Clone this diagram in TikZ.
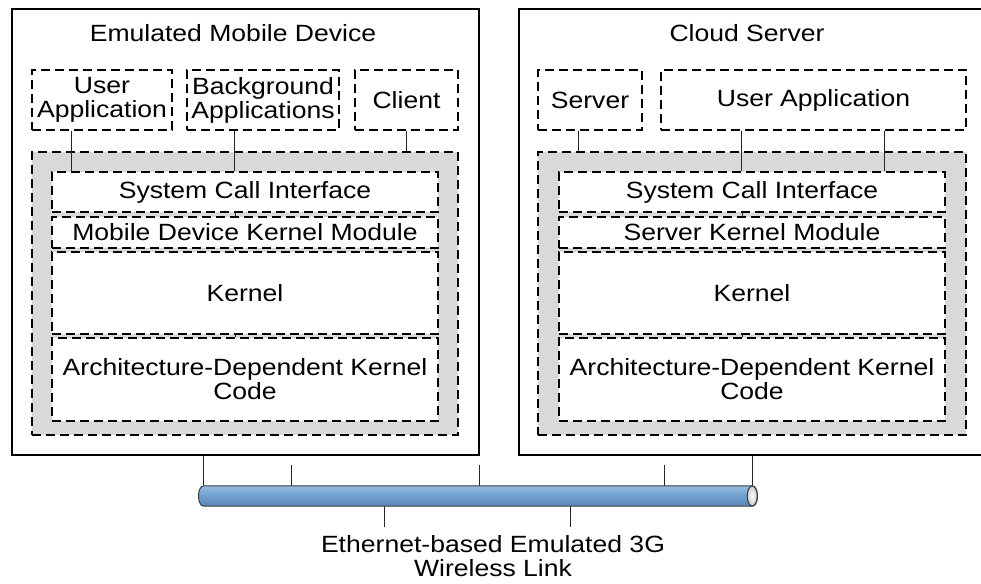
\documentclass[tikz,border=0pt]{standalone}
\usepackage{fontspec}
\setmainfont{Liberation Sans}[FakeStretch=1.13]
\definecolor{ringgray}{RGB}{217,217,217}
\definecolor{tubetop}{RGB}{150,187,224}
\definecolor{tubemid}{RGB}{110,158,206}
\definecolor{tubebot}{RGB}{88,134,184}
\definecolor{tubeline}{RGB}{60,60,60}
\begin{document}
\begin{tikzpicture}[x=1pt,y=-1pt,
  txt/.style={font=\fontsize{23.5}{24}\selectfont, align=center, inner sep=0pt},
  device/.style={draw=black, line width=1.3pt, inner sep=0pt},
  dbox/.style={txt, draw=black, dash pattern=on 9pt off 5pt, line width=1.5pt, fill=white},
  ring/.style={draw=black, dash pattern=on 9pt off 5pt, line width=1.5pt, fill=ringgray, inner sep=0pt},
  wire/.style={draw=black!85, line width=0.9pt},
  tube/.style={draw=tubeline, line width=1pt, top color=tubetop, bottom color=tubebot, middle color=tubemid},
  tubecap/.style={draw=tubeline, line width=1pt, inner color=white, outer color=black!20}
]
\useasboundingbox (0,0) rectangle (981,583);

% ---- emulated mobile device ----
\node[device, minimum width=467, minimum height=446] (devL) at (245.5,232) {};
\node[txt] (titleL) at (233,33) {Emulated Mobile Device};
\node[dbox, minimum width=140, minimum height=60] (ua) at (102,100) {User\\Application};
\node[dbox, minimum width=152, minimum height=60] (bg) at (263,100) {Background\\Applications};
\node[dbox, minimum width=103, minimum height=60] (cl) at (406.5,100) {Client};
\node[ring, minimum width=426, minimum height=283] (ringL) at (245,293.5) {};
\node[dbox, minimum width=386, minimum height=40] (sciL) at (245,192) {System Call Interface};
\node[dbox, minimum width=386, minimum height=31] (modL) at (245,232.5) {Mobile Device Kernel Module};
\node[dbox, minimum width=386, minimum height=82] (kerL) at (245,293) {Kernel};
\node[dbox, minimum width=386, minimum height=83] (arcL) at (245,379.5) {Architecture-Dependent Kernel\\Code};

\coordinate (tapL) at (235,0);
\draw[wire] ([xshift=40pt]ua.south west) -- ([xshift=40pt]ua.south west |- sciL.north);
\draw[wire] ([xshift=48pt]bg.south west) -- ([xshift=48pt]bg.south west |- sciL.north);
\draw[wire] (cl.south) -- (cl.south |- ringL.north);
\draw[wire] (tapL |- sciL.south) -- (tapL |- modL.north);
\draw[wire] (tapL |- modL.south) -- (tapL |- kerL.north);
\draw[wire] (tapL |- kerL.south) -- (tapL |- arcL.north);

% ---- cloud server ----
\node[device, minimum width=476, minimum height=446] (devR) at (757,232) {};
\node[txt] (titleR) at (747,33) {Cloud Server};
\node[dbox, minimum width=104, minimum height=60] (sv) at (590,100) {Server};
\node[dbox, minimum width=305, minimum height=60] (ua2) at (813.5,100) {User Application};
\node[ring, minimum width=428, minimum height=283] (ringR) at (752,293.5) {};
\node[dbox, minimum width=386, minimum height=40] (sciR) at (752,192) {System Call Interface};
\node[dbox, minimum width=386, minimum height=31] (modR) at (752,232.5) {Server Kernel Module};
\node[dbox, minimum width=386, minimum height=82] (kerR) at (752,293) {Kernel};
\node[dbox, minimum width=386, minimum height=83] (arcR) at (752,379.5) {Architecture-Dependent Kernel\\Code};

\coordinate (tapR) at (742,0);
\draw[wire] ([xshift=41pt]sv.south west) -- ([xshift=41pt]sv.south west |- ringR.north);
\draw[wire] ([xshift=81pt]ua2.south west) -- ([xshift=81pt]ua2.south west |- sciR.north);
\draw[wire] ([xshift=224pt]ua2.south west) -- ([xshift=224pt]ua2.south west |- sciR.north);
\draw[wire] (tapR |- sciR.south) -- (tapR |- modR.north);
\draw[wire] (tapR |- modR.south) -- (tapR |- kerR.north);
\draw[wire] (tapR |- kerR.south) -- (tapR |- arcR.north);

% ---- wireless link ----
\node[inner sep=0pt, minimum width=548, minimum height=20] (link) at (478,496) {};
\draw[wire] (link.north west) -- (link.north west |- devL.south);
\draw[wire] (link.north east) -- (link.north east |- devR.south);
\foreach \dx in {88,276,461}
  \draw[wire] ([xshift=\dx pt]link.north west) -- ++(0,-21);
\foreach \dx in {181,367}
  \draw[wire] ([xshift=\dx pt]link.south west) -- ++(0,21);
\path[tube] (link.north east) -- (link.north west)
  .. controls ([xshift=-7pt]link.north west) and ([xshift=-7pt]link.south west) .. (link.south west)
  -- (link.south east)
  .. controls ([xshift=7pt]link.south east) and ([xshift=7pt]link.north east) .. cycle;
\path[tubecap] (link.east) ellipse [x radius=5, y radius=10];
\node[txt] (linklbl) at (493,556) {Ethernet-based Emulated 3G\\Wireless Link};
\end{tikzpicture}
\end{document}
